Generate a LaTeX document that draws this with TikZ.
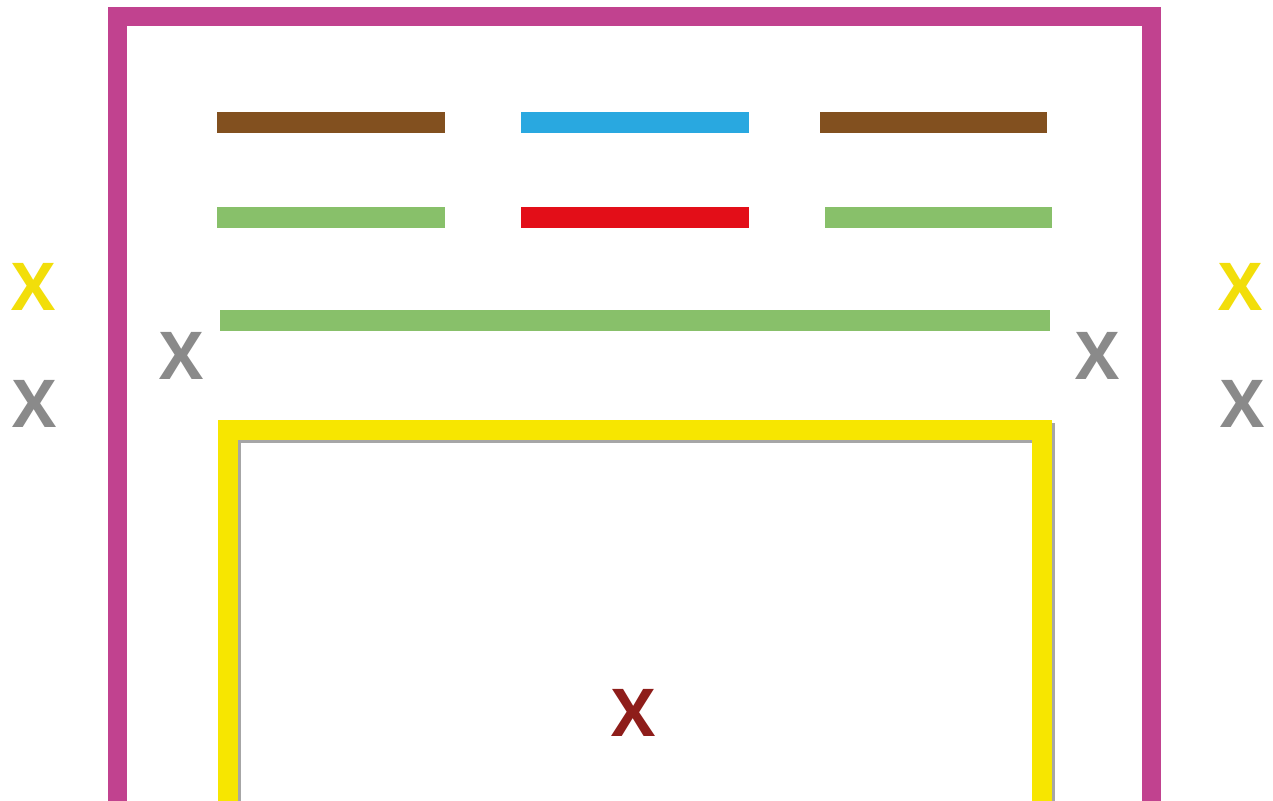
\documentclass[tikz,border=0pt]{standalone}
\usepackage{fontspec}
\setmainfont{Open Sans}
\definecolor{pinkc}{HTML}{C1428F}
\definecolor{brownc}{HTML}{82501F}
\definecolor{bluec}{HTML}{29A8E0}
\definecolor{greenc}{HTML}{88C06A}
\definecolor{redc}{HTML}{E30E18}
\definecolor{yellowc}{HTML}{F7E600}
\definecolor{yellowx}{HTML}{F2DE0A}
\definecolor{grayx}{HTML}{8A8A8A}
\definecolor{redx}{HTML}{8E1D1A}
\begin{document}
\begin{tikzpicture}[x=1pt,y=-1pt,
  bar/.style={rectangle,inner sep=0pt,outer sep=0pt,minimum height=21pt},
  xmark/.style={inner sep=0pt,font=\fontsize{66}{66}\selectfont\bfseries},
]
\useasboundingbox (0,0) rectangle (1273,800);
\clip (0,0) rectangle (1273,800);
\fill[white] (0,0) rectangle (1273,800);
% outer pink frame
\draw[pinkc,line width=19pt] (117.5,830) -- (117.5,16.5) -- (1151.5,16.5) -- (1151.5,830);
% bars
\node[bar,fill=brownc,minimum width=228pt] (b1) at (331,122.5) {};
\node[bar,fill=bluec,minimum width=228pt] (b2) at (635,122.5) {};
\node[bar,fill=brownc,minimum width=227pt] (b3) at (933.5,122.5) {};
\node[bar,fill=greenc,minimum width=228pt] (g1) at (331,217.5) {};
\node[bar,fill=redc,minimum width=228pt] (r1) at (635,217.5) {};
\node[bar,fill=greenc,minimum width=227pt] (g2) at (938.5,217.5) {};
\node[bar,fill=greenc,minimum width=830pt] (g3) at (635,320.5) {};
% yellow frame with shadow
\draw[black!35,line width=20pt] (230.5,832.5) -- (230.5,432.5) -- (1044.5,432.5) -- (1044.5,832.5);
\draw[yellowc,line width=20pt] (228,830) -- (228,430) -- (1042,430) -- (1042,830);
% marks
\node[xmark,text=yellowx] (xyl) at (34,287) {X};
\node[xmark,text=grayx] (xgl) at (35,404) {X};
\node[xmark,text=grayx] (xgli) at (182,356) {X};
\node[xmark,text=grayx] (xgri) at (1097,356) {X};
\node[xmark,text=yellowx] (xyr) at (1240,287) {X};
\node[xmark,text=grayx] (xgr) at (1242,404) {X};
\node[xmark,text=redx] (xr) at (634,713) {X};
\end{tikzpicture}
\end{document}
